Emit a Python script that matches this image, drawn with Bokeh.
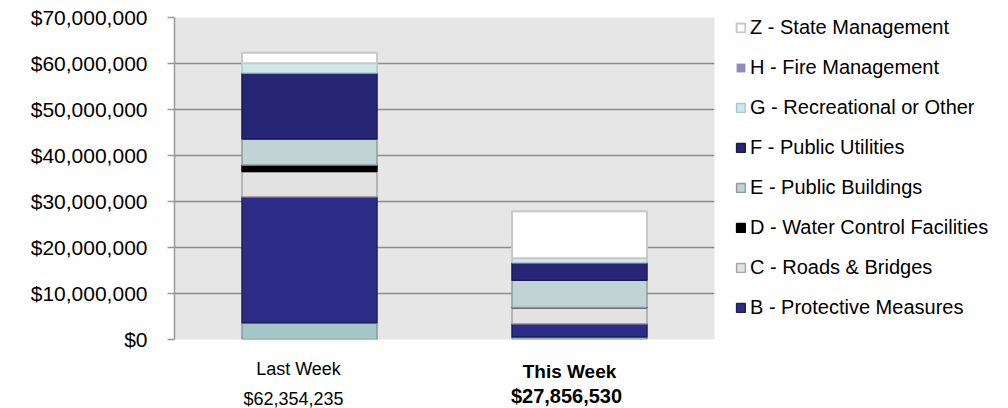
from bokeh.plotting import figure
from bokeh.layouts import column
from bokeh.models import (FactorRange, Range1d, NumeralTickFormatter, Legend,
                          LegendItem, FixedTicker, ColumnDataSource)
from bokeh.core.properties import value
from bokeh.embed import file_html
from bokeh.resources import INLINE

# ---- data ----
weeks = ["Last Week", "This Week"]
week_totals = ["$62,354,235", "$27,856,530"]

A_debris = [3.66e6, 0.54e6]
B_protective = [27.37e6, 2.90e6]
C_roads = [5.50e6, 3.45e6]
D_water = [1.40e6, 0.08e6]
E_buildings = [5.66e6, 5.90e6]
F_utilities = [14.37e6, 3.83e6]
G_recreational = [2.09e6, 0.96e6]
H_fire = [0.0, 0.0]
Z_state = [2.30e6, 10.20e6]

series_keys = ["A", "B", "C", "D", "E", "F", "G", "H", "Z"]
series_labels = ["A - Debris Removal", "B - Protective Measures", "C - Roads & Bridges",
                 "D - Water Control Facilities", "E - Public Buildings",
                 "F - Public Utilities", "G - Recreational or Other",
                 "H - Fire Management", "Z - State Management"]
y_ticks = [0, 10e6, 20e6, 30e6, 40e6, 50e6, 60e6, 70e6]

# ---- styles ----
fills = ["#A4C6C7", "#2D2D87", "#E2E2E2", "#000000", "#C1D3D5",
         "#262675", "#CDEAEA", "#8C8CC0", "#FFFFFF"]
lines = ["#7E9C9D", "#1E1E5E", "#A6A6A6", "#000000", "#8C9C9E",
         "#1A1A55", "#A9CACA", "#8C8CC0", "#C8C8C8"]
line_alphas = [1, 1, 1, 1, 1, 1, 1, 0, 1]
widths = [1.5, 1.5, 1.5, 1.5, 1.5, 1.5, 1.5, 1.5, 2.0]
FONT = "Liberation Sans"
LEFT = 174
FRAME_W, FRAME_H = 540, 322
MAIN_BOTTOM = 14
LABEL_H = 55

source = ColumnDataSource(dict(week=weeks, A=A_debris, B=B_protective, C=C_roads,
                               D=D_water, E=E_buildings, F=F_utilities,
                               G=G_recreational, H=H_fire, Z=Z_state))

xr = FactorRange(factors=weeks, range_padding=0)
p = figure(x_range=xr, y_range=Range1d(0, 70e6),
           frame_width=FRAME_W, frame_height=FRAME_H,
           output_backend="svg", toolbar_location=None,
           min_border_left=LEFT, min_border_right=0, min_border_top=17,
           min_border_bottom=MAIN_BOTTOM)
p.background_fill_color = "#E6E6E6"
p.border_fill_color = "white"
p.outline_line_color = None

renderers = p.vbar_stack(series_keys, x="week", width=0.5, source=source,
                         fill_color=fills, line_color=lines, line_width=widths,
                         line_alpha=line_alphas)

# axes
p.xaxis.visible = False
p.yaxis.ticker = FixedTicker(ticks=y_ticks)
p.yaxis.formatter = NumeralTickFormatter(format="$0,0")
p.yaxis.major_label_text_font = FONT
p.yaxis.major_label_text_font_size = "21px"
p.yaxis.major_label_text_color = "#000000"
p.yaxis.axis_line_color = "#999999"
p.yaxis.axis_line_width = 1.5
p.yaxis.major_tick_line_color = "#999999"
p.yaxis.major_tick_line_width = 1.5
p.yaxis.major_tick_out = 7
p.yaxis.major_tick_in = 0
p.yaxis.minor_tick_line_color = None
p.yaxis.major_label_standoff = 20

p.xgrid.grid_line_color = None
p.ygrid.grid_line_color = "#8C8C8C"
p.ygrid.grid_line_width = 1.5

# legend (reverse order, without A)
items = [LegendItem(label=series_labels[i], renderers=[renderers[i]])
         for i in range(len(series_keys) - 1, 0, -1)]
legend = Legend(items=items, location=(21, 20), padding=0, margin=0,
                spacing=17, glyph_width=11, glyph_height=11, label_standoff=4,
                label_text_font=FONT, label_text_font_size="20px",
                label_text_color="#000000", border_line_color=None,
                background_fill_alpha=0)
p.add_layout(legend, "right")

# ---- category names and totals under the bars ----
q = figure(x_range=xr, y_range=Range1d(0, LABEL_H),
           frame_width=FRAME_W, frame_height=LABEL_H,
           output_backend="svg", toolbar_location=None,
           min_border_left=LEFT, min_border_right=0, min_border_top=0,
           min_border_bottom=0)
q.axis.visible = False
q.grid.visible = False
q.outline_line_color = None
q.background_fill_color = "white"

q.text(x=[weeks[0]], y=[39.7], text=[weeks[0]], x_offset=-11,
       text_align="center", text_baseline="alphabetic",
       text_font=value(FONT), text_font_size="18px", text_color="#000000")
q.text(x=[weeks[0]], y=[9.7], text=[week_totals[0]], x_offset=-16,
       text_align="center", text_baseline="alphabetic",
       text_font=value(FONT), text_font_size="18px", text_color="#000000")
q.text(x=[weeks[1]], y=[37], text=[weeks[1]], x_offset=-10,
       text_align="center", text_baseline="alphabetic", text_font_style="bold",
       text_font=value(FONT), text_font_size="19px", text_color="#000000")
q.text(x=[weeks[1]], y=[12.3], text=[week_totals[1]], x_offset=-13,
       text_align="center", text_baseline="alphabetic", text_font_style="bold",
       text_font=value(FONT), text_font_size="20px", text_color="#000000")

layout = column(p, q, spacing=0)
open("out.html", "w").write(file_html(layout, INLINE))
